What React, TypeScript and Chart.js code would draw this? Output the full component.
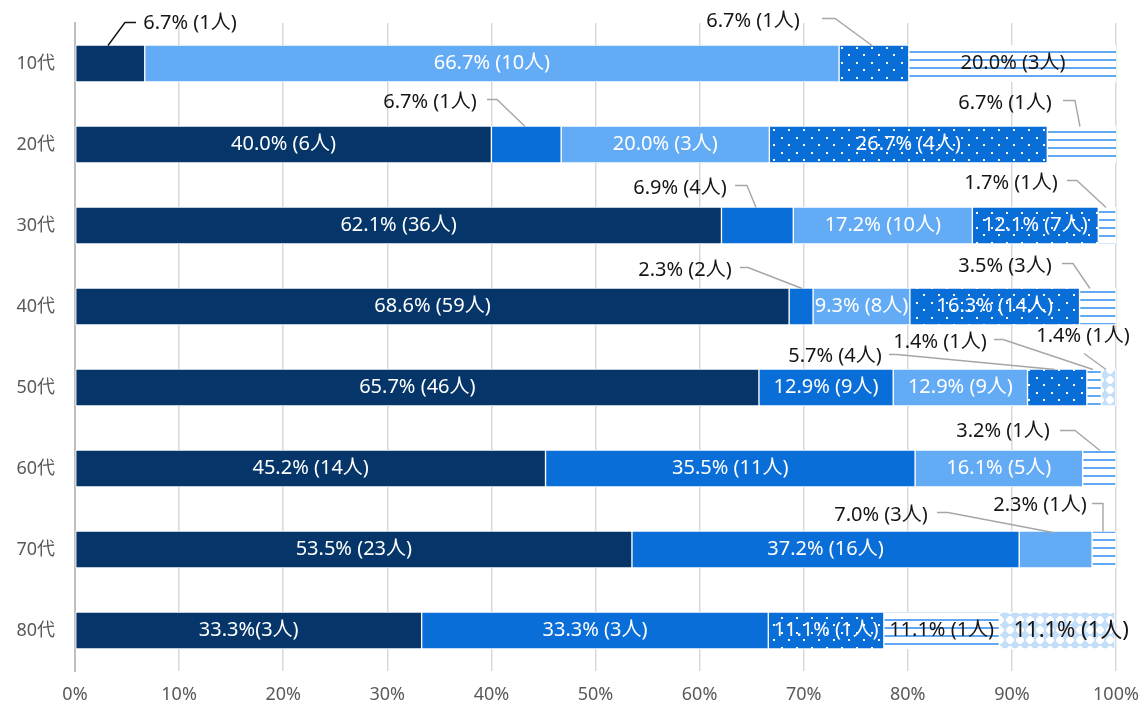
import React, { useEffect, useRef } from "react";
import { Chart, registerables } from "chart.js";

Chart.register(...registerables);

const categories = ["10代", "20代", "30代", "40代", "50代", "60代", "70代", "80代"];
const xTickValues = [0, 10, 20, 30, 40, 50, 60, 70, 80, 90, 100];

const navyPct = [6.7, 40.0, 62.1, 68.6, 65.7, 45.2, 53.5, 33.3];
const navyCount = [1, 6, 36, 59, 46, 14, 23, 3];
const mediumPct = [0, 6.7, 6.9, 2.3, 12.9, 35.5, 37.2, 33.3];
const mediumCount = [0, 1, 4, 2, 9, 11, 16, 3];
const lightPct = [66.7, 20.0, 17.2, 9.3, 12.9, 16.1, 7.0, 0];
const lightCount = [10, 3, 10, 8, 9, 5, 3, 0];
const dottedPct = [6.7, 26.7, 12.1, 16.3, 5.7, 0, 0, 11.1];
const dottedCount = [1, 4, 7, 14, 4, 0, 0, 1];
const stripedPct = [20.0, 6.7, 1.7, 3.5, 1.4, 3.2, 2.3, 11.1];
const stripedCount = [3, 1, 1, 3, 1, 1, 1, 1];
const checkPct = [0, 0, 0, 0, 1.4, 0, 0, 11.1];
const checkCount = [0, 0, 0, 0, 1, 0, 0, 1];

const FONT = '"Noto Sans", "Noto Sans CJK JP", sans-serif';

// label placement for callouts: [dataset, row], text centre (x in %, dy px from row centre), leader path
type Callout = { ds: number; row: number; tx: number; ty: number; path: number[][]; color?: string };
const callouts: Callout[] = [
  { ds: 0, row: 0, tx: 11.05, ty: -40, path: [[3.17, -18], [4.8, -41], [5.86, -41]], color: "#111" },
  { ds: 3, row: 0, tx: 65.13, ty: -42, path: [[71.76, -45], [73.01, -45], [76.56, -18]] },
  { ds: 1, row: 1, tx: 34.1, ty: -42, path: [[39.58, -45], [40.54, -45], [43.23, -18]] },
  { ds: 4, row: 1, tx: 89.34, ty: -41, path: [[94.91, -44], [96.06, -44], [96.54, -18]] },
  { ds: 1, row: 2, tx: 58.12, ty: -37, path: [[63.4, -40], [64.55, -40], [65.42, -18]] },
  { ds: 4, row: 2, tx: 89.91, ty: -42, path: [[95.29, -45], [96.25, -45], [99.04, -18]] },
  { ds: 1, row: 3, tx: 58.6, ty: -36, path: [[63.88, -39], [64.65, -39], [69.84, -18]] },
  { ds: 4, row: 3, tx: 89.34, ty: -40, path: [[94.81, -43], [95.87, -43], [97.5, -18]] },
  { ds: 3, row: 4, tx: 73.01, ty: -31, path: [[78.19, -33], [78.96, -33], [94.14, -18]] },
  { ds: 4, row: 4, tx: 83.09, ty: -45, path: [[88.28, -48], [89.15, -48], [97.79, -18]] },
  { ds: 5, row: 4, tx: 96.83, ty: -51, path: [[96.93, -34], [99.04, -18]] },
  { ds: 4, row: 5, tx: 89.15, ty: -37, path: [[94.62, -38], [96.06, -38], [98.46, -18]] },
  { ds: 2, row: 6, tx: 77.43, ty: -34, path: [[82.81, -37], [83.86, -37], [93.95, -17]] },
  { ds: 4, row: 6, tx: 92.7, ty: -44, path: [[97.69, -46], [98.75, -46], [98.75, -18]] },
];
const compactLabels = [[0, 7]];
const bigLabels = [[5, 7]];

function makePattern(kind: string): CanvasPattern | string {
  const c = document.createElement("canvas");
  const g = c.getContext("2d")!;
  if (kind === "dots") {
    c.width = 15; c.height = 15;
    g.fillStyle = "#0A6ED8"; g.fillRect(0, 0, 15, 15);
    g.fillStyle = "#ffffff";
    g.fillRect(1, 2, 2, 2);
    g.fillRect(8, 9, 2, 2);
  } else if (kind === "stripes") {
    c.width = 8; c.height = 8;
    g.fillStyle = "#ffffff"; g.fillRect(0, 0, 8, 8);
    g.fillStyle = "#5FA9F2"; g.fillRect(0, 3, 8, 2);
  } else {
    c.width = 10; c.height = 10;
    g.fillStyle = "#ffffff"; g.fillRect(0, 0, 10, 10);
    g.fillStyle = "#C3DEF9";
    g.beginPath();
    g.moveTo(5, 0); g.lineTo(10, 5); g.lineTo(5, 10); g.lineTo(0, 5); g.closePath();
    g.fill();
    g.fillRect(0, 4, 10, 2);
    g.fillRect(4, 0, 2, 10);
  }
  return g.createPattern(c, "repeat") || "#ccc";
}

const pctSets = [navyPct, mediumPct, lightPct, dottedPct, stripedPct, checkPct];
const countSets = [navyCount, mediumCount, lightCount, dottedCount, stripedCount, checkCount];

const labelPlugin = {
  id: "barLabels",
  afterDatasetsDraw(chart: any) {
    const ctx = chart.ctx as CanvasRenderingContext2D;
    const xs = chart.scales.x;
    const ys = chart.scales.y;
    ctx.save();
    ctx.textAlign = "center";
    ctx.textBaseline = "middle";
    pctSets.forEach((pct, di) => {
      const meta = chart.getDatasetMeta(di);
      pct.forEach((v, ri) => {
        if (!v) return;
        const compact = compactLabels.some(([d, r]) => d === di && r === ri);
        const big = bigLabels.some(([d, r]) => d === di && r === ri);
        const text = v.toFixed(1) + "%" + (compact ? "" : " ") + "(" + countSets[di][ri] + "人)";
        const yc = ys.getPixelForValue(ri);
        const co = callouts.find((c) => c.ds === di && c.row === ri);
        if (co) {
          ctx.strokeStyle = co.color || "#A6A6A6";
          ctx.lineWidth = 1.4;
          ctx.beginPath();
          co.path.forEach(([px, dy], k) => {
            const X = xs.getPixelForValue(px);
            const Y = yc + dy;
            if (k) ctx.lineTo(X, Y); else ctx.moveTo(X, Y);
          });
          ctx.stroke();
          ctx.fillStyle = "#151515";
          ctx.font = `20px ${FONT}`;
          ctx.fillText(text, xs.getPixelForValue(co.tx), yc + co.ty);
        } else {
          const el = meta.data[ri];
          let cx = (el.x + el.base) / 2;
          ctx.fillStyle = di >= 4 ? "#151515" : "#ffffff";
          ctx.font = `${big ? 22 : 20}px ${FONT}`;
          if (big) cx += 14;
          ctx.fillText(text, cx, yc);
        }
      });
    });
    ctx.restore();
  },
};

export default function App() {
  const ref = useRef<HTMLCanvasElement>(null);
  useEffect(() => {
    const fills = ["#063669", "#0A6ED8", "#63ACF5", makePattern("dots"), makePattern("stripes"), makePattern("check")];
    const chart = new Chart(ref.current!, {
      type: "bar",
      data: {
        labels: categories,
        datasets: pctSets.map((p, i) => ({
          label: "s" + i,
          data: p,
          backgroundColor: fills[i] as any,
          borderColor: "#ffffff",
          borderWidth: 1,
          borderSkipped: false,
          barThickness: 37,
        })),
      },
      options: {
        indexAxis: "y",
        responsive: false,
        animation: false,
        layout: { padding: { top: 23, right: 28, left: 0, bottom: 0 } },
        plugins: { legend: { display: false }, tooltip: { enabled: false } },
        scales: {
          x: {
            stacked: true,
            min: 0,
            max: 100,
            afterBuildTicks: (s: any) => { s.ticks = xTickValues.map((v) => ({ value: v })); },
            afterFit: (s: any) => { s.height = 40; s.paddingLeft = 0; s.paddingRight = 0; },
            grid: { color: "#D9D9D9", lineWidth: 1.5, drawTicks: false, tickLength: 0 },
            border: { display: false },
            ticks: {
              padding: 13,
              color: "#595959",
              font: { size: 18, family: FONT },
              callback: (v: any) => v + "%",
            },
          },
          y: {
            stacked: true,
            afterFit: (s: any) => { s.width = 75; s.paddingTop = 0; s.paddingBottom = 0; },
            grid: { display: false, drawTicks: false },
            border: { display: true, color: "#BFBFBF", width: 2 },
            ticks: { padding: 20, color: "#595959", font: { size: 18, family: FONT } },
          },
        },
      },
      plugins: [labelPlugin],
    });
    return () => chart.destroy();
  }, []);
  return (
    <div style={{ position: "absolute", left: 0, top: 0, width: 1144, height: 711, background: "#fff" }}>
      <canvas ref={ref} width={1144} height={711} style={{ display: "block" }} />
    </div>
  );
}
